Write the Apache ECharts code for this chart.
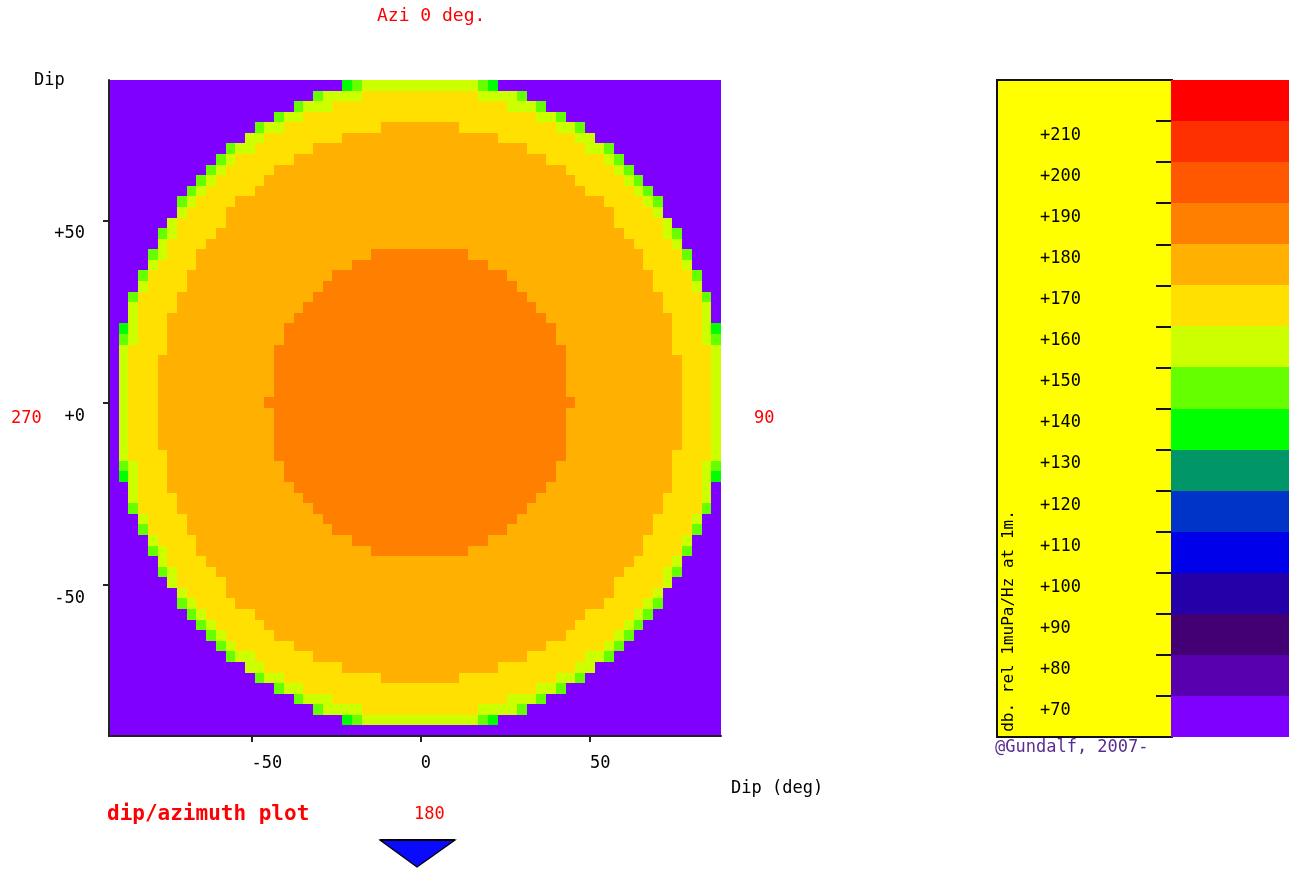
<!DOCTYPE html>
<html><head><meta charset="utf-8">
<script src="https://cdn.jsdelivr.net/npm/echarts@6/dist/echarts.min.js"></script>
<style>html,body{margin:0;padding:0;background:#fff}#c{width:1295px;height:871px}</style>
</head><body><div id="c"></div>
<script>
// ---- sampling grid of the dip/azimuth map (degrees) ----
const dipXStart = -92.08, dipXStep = 2.870, nCols = 63;
const dipYTop = 88.55, dipYStep = 2.903, nRows = 62;

// level codes read from the picture and the dB value they stand for
const levelCodes = ['P', 'G', 'L', 'y', 'Y', 'a', 'o'];
const levelDb    = [65, 135, 145, 155, 165, 175, 185];

// one run-length string per row, top row first (code + run length)
const rowRuns = [
  'P24 G1 L1 y12 L1 G1 P23',
  'P21 L1 y4 Y12 y4 L1 P20',
  'P19 L1 y3 Y18 y3 L1 P18',
  'P17 L1 y2 Y24 y2 L1 P16',
  'P15 L1 y2 Y10 a8 Y10 y2 L1 P14',
  'P14 y2 Y8 a16 Y8 y2 P13',
  'P12 L1 y2 Y6 a22 Y6 y2 L1 P11',
  'P11 L1 y1 Y6 a26 Y6 y1 L1 P10',
  'P10 L1 y1 Y5 a30 Y5 y1 L1 P9',
  'P9 L1 y1 Y5 a32 Y5 y1 L1 P8',
  'P8 L1 y1 Y5 a34 Y5 y1 L1 P7',
  'P7 L1 y1 Y4 a38 Y4 y1 L1 P6',
  'P7 y1 Y4 a40 Y4 y1 P6',
  'P6 y1 Y5 a40 Y5 y1 P5',
  'P5 L1 y1 Y4 a42 Y4 y1 L1 P4',
  'P5 y1 Y4 a44 Y4 y1 P4',
  'P4 L1 y1 Y3 a18 o10 a18 Y4 L1 P3',
  'P4 y1 Y4 a16 o14 a16 Y4 y1 P3',
  'P3 L1 Y4 a15 o18 a15 Y4 L1 P2',
  'P3 y1 Y4 a14 o20 a14 Y4 y1 P2',
  'P2 L1 Y4 a14 o22 a14 Y4 L1 P1',
  'P2 y1 Y4 a13 o24 a13 Y4 y1 P1',
  'P2 y1 Y3 a13 o26 a13 Y3 y1 P1',
  'P1 G1 y1 Y3 a12 o28 a12 Y3 y1 G1',
  'P1 L1 y1 Y3 a12 o28 a12 Y3 y1 L1',
  'P1 y1 Y4 a11 o30 a11 Y4 y1',
  'P1 y1 Y3 a12 o30 a12 Y3 y1',
  'P1 y1 Y3 a12 o30 a12 Y3 y1',
  'P1 y1 Y3 a12 o30 a12 Y3 y1',
  'P1 y1 Y3 a12 o30 a12 Y3 y1',
  'P1 y1 Y3 a11 o32 a11 Y3 y1',
  'P1 y1 Y3 a12 o30 a12 Y3 y1',
  'P1 y1 Y3 a12 o30 a12 Y3 y1',
  'P1 y1 Y3 a12 o30 a12 Y3 y1',
  'P1 y1 Y3 a12 o30 a12 Y3 y1',
  'P1 y1 Y4 a11 o30 a11 Y4 y1',
  'P1 L1 y1 Y3 a12 o28 a12 Y3 y1 L1',
  'P1 G1 y1 Y3 a12 o28 a12 Y3 y1 G1',
  'P2 y1 Y3 a13 o26 a13 Y3 y1 P1',
  'P2 y1 Y4 a13 o24 a13 Y4 y1 P1',
  'P2 L1 Y4 a14 o22 a14 Y4 L1 P1',
  'P3 y1 Y4 a14 o20 a14 Y4 y1 P2',
  'P3 L1 Y4 a15 o18 a15 Y4 L1 P2',
  'P4 y1 Y4 a16 o14 a16 Y4 y1 P3',
  'P4 L1 y1 Y3 a18 o10 a18 Y4 L1 P3',
  'P5 y1 Y4 a44 Y4 y1 P4',
  'P5 L1 y1 Y4 a42 Y4 y1 L1 P4',
  'P6 y1 Y5 a40 Y5 y1 P5',
  'P7 y1 Y4 a40 Y4 y1 P6',
  'P7 L1 y1 Y4 a38 Y4 y1 L1 P6',
  'P8 L1 y1 Y5 a34 Y5 y1 L1 P7',
  'P9 L1 y1 Y5 a32 Y5 y1 L1 P8',
  'P10 L1 y1 Y5 a30 Y5 y1 L1 P9',
  'P11 L1 y1 Y6 a26 Y6 y1 L1 P10',
  'P12 L1 y2 Y6 a22 Y6 y2 L1 P11',
  'P14 y2 Y8 a16 Y8 y2 P13',
  'P15 L1 y2 Y10 a8 Y10 y2 L1 P14',
  'P17 L1 y2 Y24 y2 L1 P16',
  'P19 L1 y3 Y18 y3 L1 P18',
  'P21 L1 y4 Y12 y4 L1 P20',
  'P24 G1 L1 y12 L1 G1 P23',
  'P63'
];

const xTickValues = [-50, 0, 50];
const yTickValues = [-50, 0, 50];

// colour bar: lower bound of each 10 dB band and its colour
const colorbarStart  = [60, 70, 80, 90, 100, 110, 120, 130, 140, 150, 160, 170, 180, 190, 200, 210];
const colorbarColors = ['#8000ff', '#5800b0', '#420074', '#2400a8', '#0000ea', '#0034c8',
                        '#009668', '#00ff00', '#66ff00', '#ccff00', '#ffe000', '#ffb000',
                        '#ff8000', '#ff5800', '#ff3000', '#ff0000'];
const colorbarTicks  = [70, 80, 90, 100, 110, 120, 130, 140, 150, 160, 170, 180, 190, 200, 210];

function colorFor(db) {
  let idx = Math.floor((db - colorbarStart[0]) / 10);
  idx = Math.max(0, Math.min(colorbarColors.length - 1, idx));
  return colorbarColors[idx];
}

// decode the rows into [col, row, dB] cells
const cells = [];
rowRuns.forEach(function (line, r) {
  let c = 0;
  line.trim().split(/\s+/).forEach(function (tok) {
    const code = tok.charAt(0), n = parseInt(tok.slice(1), 10);
    const db = levelDb[levelCodes.indexOf(code)];
    for (let i = 0; i < n; i++) { cells.push([c, r, db]); c++; }
  });
});

const FONT = 'DejaVu Sans Mono';

function renderCell(params, api) {
  const c = api.value(0), r = api.value(1), v = api.value(2);
  const x0 = dipXStart + c * dipXStep, x1 = x0 + dipXStep;
  const y0 = dipYTop - r * dipYStep, y1 = y0 - dipYStep;
  const p0 = api.coord([x0, y0]), p1 = api.coord([x1, y1]);
  const l = Math.round(p0[0]), t = Math.round(p0[1]);
  const rr = Math.round(p1[0]), b = Math.round(p1[1]);
  return { type: 'rect', shape: { x: l, y: t, width: rr - l, height: b - t },
           style: { fill: colorFor(v) } };
}

function renderBand(params, api) {
  const lo = api.value(0);
  const p0 = api.coord([0, lo + 10]), p1 = api.coord([1, lo]);
  const l = Math.round(p0[0]), t = Math.round(p0[1]);
  const r = Math.round(p1[0]), b = Math.round(p1[1]);
  return { type: 'rect', shape: { x: l, y: t, width: r - l, height: b - t },
           style: { fill: colorFor(lo + 5) } };
}

const chart = echarts.init(document.getElementById('c'), null, { renderer: 'canvas' });
const axisText = { fontFamily: FONT, fontSize: 17, color: '#000' };

chart.setOption({
  animation: false,
  backgroundColor: '#ffffff',
  grid: [
    { left: 109, top: 80, width: 612, height: 656 },
    { left: 1171, top: 80, width: 118, height: 657 }
  ],
  xAxis: [
    {
      gridIndex: 0, type: 'value', z: 10,
      min: dipXStart, max: dipXStart + nCols * dipXStep,
      axisLine: { show: true, onZero: false, lineStyle: { color: '#222', width: 2 } },
      axisTick: { show: true, customValues: xTickValues, length: 6, lineStyle: { color: '#222', width: 2 } },
      axisLabel: Object.assign({ customValues: xTickValues, margin: 19, align: 'left', verticalAlign: 'top',
                                 formatter: function (v) { return String(v); } }, axisText),
      splitLine: { show: false }
    },
    { gridIndex: 1, type: 'value', min: 0, max: 1, show: false }
  ],
  yAxis: [
    {
      gridIndex: 0, type: 'value', z: 10,
      min: dipYTop - nRows * dipYStep, max: dipYTop,
      axisLine: { show: true, onZero: false, lineStyle: { color: '#222', width: 2 } },
      axisTick: { show: true, customValues: yTickValues, length: 6, lineStyle: { color: '#222', width: 2 } },
      axisLabel: Object.assign({ customValues: yTickValues, margin: 24, align: 'right', verticalAlign: 'top',
                                 padding: [5, 0, 0, 0],
                                 formatter: function (v) { return v >= 0 ? '+' + v : String(v); } }, axisText),
      splitLine: { show: false }
    },
    {
      gridIndex: 1, type: 'value', min: 60, max: 220, z: 10,
      axisLine: { show: false },
      axisTick: { show: true, customValues: colorbarTicks, length: 15, lineStyle: { color: '#111', width: 2 } },
      axisLabel: Object.assign({ customValues: colorbarTicks, margin: 131, align: 'left', verticalAlign: 'top',
                                 padding: [6, 0, 0, 0],
                                 formatter: function (v) { return '+' + v; } }, axisText),
      splitLine: { show: false }
    }
  ],
  series: [
    { type: 'custom', xAxisIndex: 0, yAxisIndex: 0, renderItem: renderCell, data: cells, silent: true },
    { type: 'custom', xAxisIndex: 1, yAxisIndex: 1, renderItem: renderBand,
      data: colorbarStart.map(function (v) { return [v]; }), silent: true }
  ],
  graphic: [
    { type: 'rect', z: -5, shape: { x: 997, y: 80, width: 175, height: 657 },
      style: { fill: '#ffff00', stroke: '#111', lineWidth: 2 } },
    { type: 'text', x: 377, y: 16, style: { text: 'Azi 0 deg.', fill: '#ff0000', font: '18px ' + FONT, textAlign: 'left', textVerticalAlign: 'middle' } },
    { type: 'text', x: 34, y: 81, style: { text: 'Dip', fill: '#000', font: '17px ' + FONT, textAlign: 'left', textVerticalAlign: 'middle' } },
    { type: 'text', x: 11, y: 419, style: { text: '270', fill: '#ff0000', font: '17px ' + FONT, textAlign: 'left', textVerticalAlign: 'middle' } },
    { type: 'text', x: 754, y: 419, style: { text: '90', fill: '#ff0000', font: '17px ' + FONT, textAlign: 'left', textVerticalAlign: 'middle' } },
    { type: 'text', x: 731, y: 789, style: { text: 'Dip (deg)', fill: '#000', font: '17px ' + FONT, textAlign: 'left', textVerticalAlign: 'middle' } },
    { type: 'text', x: 107, y: 815, style: { text: 'dip/azimuth plot', fill: '#ff0000', font: 'bold 21px ' + FONT, textAlign: 'left', textVerticalAlign: 'middle' } },
    { type: 'text', x: 414, y: 815, style: { text: '180', fill: '#ff0000', font: '17px ' + FONT, textAlign: 'left', textVerticalAlign: 'middle' } },
    { type: 'text', x: 995, y: 748, style: { text: '@Gundalf, 2007-', fill: '#5a2d91', font: '17px ' + FONT, textAlign: 'left', textVerticalAlign: 'middle' } },
    { type: 'text', x: 1009, y: 621, rotation: Math.PI / 2,
      style: { text: 'db. rel 1muPa/Hz at 1m.', fill: '#000', font: '16px ' + FONT, textAlign: 'center', textVerticalAlign: 'middle' } },
    { type: 'polygon', shape: { points: [[380, 840], [455, 840], [417, 867]] },
      style: { fill: '#0a0aff', stroke: '#000', lineWidth: 1.2 } },
    { type: 'line', shape: { x1: 380, y1: 840, x2: 455, y2: 840 }, style: { stroke: '#000', lineWidth: 2 } }
  ]
});
</script>
</body></html>
